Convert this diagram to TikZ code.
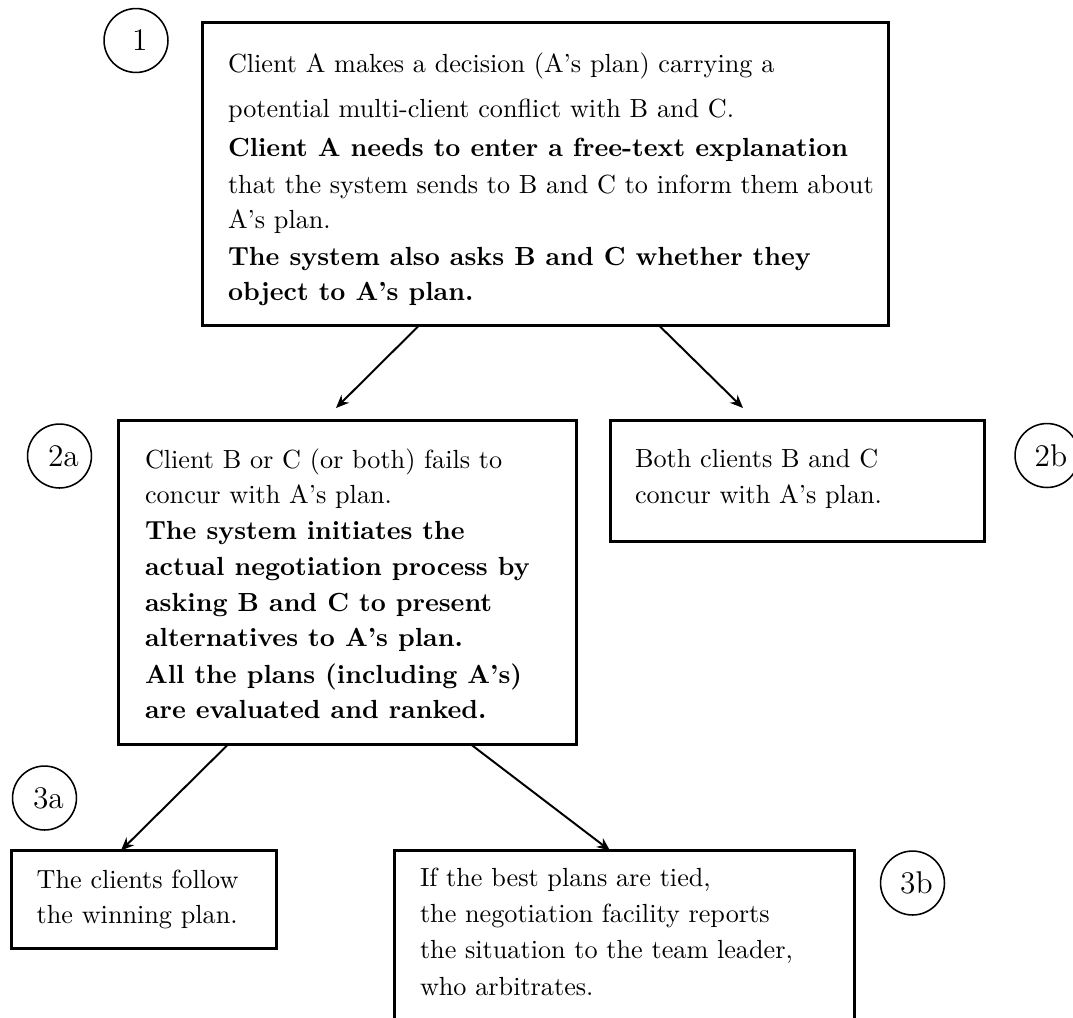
\documentclass[tikz,border=0pt]{standalone}
\usetikzlibrary{arrows.meta,calc}
\def\pxu{0.3817pt}
\newcommand\firstln[1]{\hbox{#1}}
\newcommand\nextln[2]{\baselineskip=#1\relax\hbox{#2}}
\newcommand\txtblock[1]{\vtop{\lineskiplimit=-100pt\lineskip=0pt #1}}
\begin{document}
\begin{tikzpicture}[x=\pxu, y=-\pxu,
  box/.style={draw, rectangle, line width=1.15pt, inner sep=0pt, outer sep=0pt, anchor=north west},
  num/.style={draw, circle, line width=0.6pt, minimum size=24.4pt, inner sep=0pt, font=\large},
  txt/.style={inner sep=0pt, outer sep=0pt, anchor=base west},
  arr/.style={line width=0.75pt, -{Stealth[length=5pt,width=4.2pt]}}]
\clip (0,0) rectangle (1073,1017);
% boxes
\node[box, minimum width={686*\pxu}, minimum height={303*\pxu}] (b1) at (202.5,22.5) {};
\node[box, minimum width={457.3*\pxu}, minimum height={324*\pxu}] (b2a) at (118.7,420.5) {};
\node[box, minimum width={374.5*\pxu}, minimum height={121*\pxu}] (b2b) at (610,420.5) {};
\node[box, minimum width={265.2*\pxu}, minimum height={97.5*\pxu}] (b3a) at (11.3,850.5) {};
\node[box, minimum width={460*\pxu}, minimum height={220*\pxu}] (b3b) at (394,850.5) {};
% texts
\node[txt] (t1) at (228,72) {\txtblock{%
  \firstln{Client A makes a decision (A's plan) carrying a}
  \nextln{17.2pt}{potential multi-client conflict with B and C.}
  \nextln{15.0pt}{\bfseries Client A needs to enter a free-text explanation}
  \nextln{14.0pt}{that the system sends to B and C to inform them about}
  \nextln{13.6pt}{A's plan.}
  \nextln{14.0pt}{\bfseries The system also asks B and C whether they}
  \nextln{13.6pt}{\bfseries object to A's plan.}}};
\node[txt] (t2a) at (145,468) {\txtblock{%
  \firstln{Client B or C (or both) fails to}
  \nextln{13.6pt}{concur with A's plan.}
  \nextln{13.7pt}{\bfseries The system initiates the}
  \nextln{13.7pt}{\bfseries actual negotiation process by}
  \nextln{13.7pt}{\bfseries asking B and C to present}
  \nextln{13.6pt}{\bfseries alternatives to A's plan.}
  \nextln{13.9pt}{\bfseries All the plans (including A's)}
  \nextln{13.5pt}{\bfseries are evaluated and ranked.}}};
\node[txt] (t2b) at (635,467) {\txtblock{%
  \firstln{Both clients B and C}
  \nextln{14.0pt}{concur with A's plan.}}};
\node[txt] (t3a) at (36.7,888) {\txtblock{%
  \firstln{The clients follow}
  \nextln{13.4pt}{the winning plan.}}};
\node[txt] (t3b) at (420,886.7) {\txtblock{%
  \firstln{If the best plans are tied,}
  \nextln{13.5pt}{the negotiation facility reports}
  \nextln{13.9pt}{the situation to the team leader,}
  \nextln{14.1pt}{who arbitrates.}}};
% number circles
\node[num] (c1) at (136,40.5) {\kern3pt 1};
\node[num] (c2a) at (59.5,456) {\kern3pt 2a};
\node[num] (c2b) at (1047,455.5) {\kern3pt 2b};
\node[num] (c3a) at (44.5,798) {\kern3pt 3a};
\node[num] (c3b) at (912.5,883) {\kern3pt 3b};
% connectors
\draw[arr] ($(b1.south west)+(216.5,0)$) -- ($(b2a.north west)+(217.3,-12.5)$);
\draw[arr] ($(b1.south west)+(456.5,0)$) -- ($(b2b.north west)+(133,-12.5)$);
\draw[arr] ($(b2a.south west)+(109.3,0)$) -- ($(b3a.north west)+(109.7,0)$);
\draw[arr] ($(b2a.south west)+(352.3,0)$) -- ($(b3b.north west)+(216,0)$);
\end{tikzpicture}
\end{document}
